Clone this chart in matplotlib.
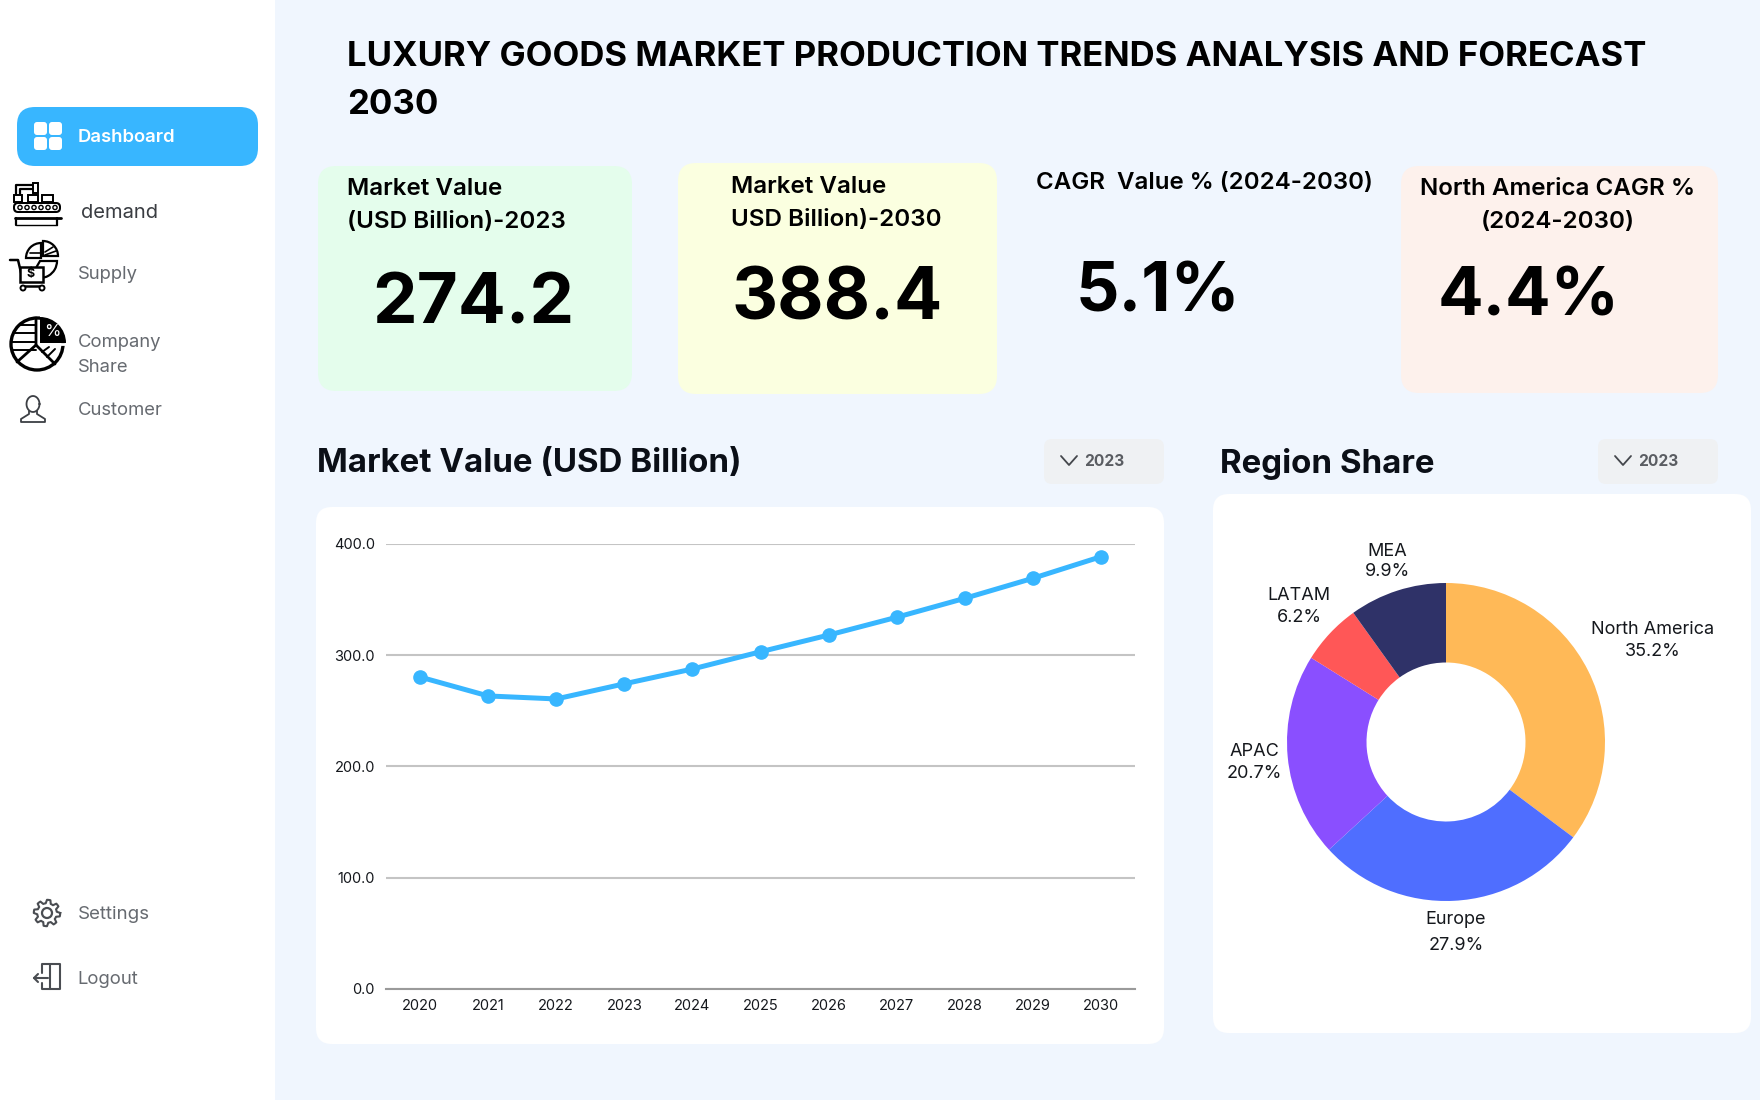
#!/usr/bin/env python3
"""Luxury goods market dashboard, drawn in matplotlib."""

import numpy as np
import matplotlib
matplotlib.use("Agg")
import matplotlib.pyplot as plt
from matplotlib.patches import FancyBboxPatch, Rectangle, Circle, Wedge

plt.rcParams["font.family"] = ["Inter", "DejaVu Sans"]

# === Data ===
TITLE = "LUXURY GOODS MARKET PRODUCTION TRENDS ANALYSIS AND FORECAST\n2030"
years = ["2020", "2021", "2022", "2023", "2024", "2025", "2026", "2027", "2028", "2029", "2030"]
market_value = [280.3, 263.3, 260.6, 274.2, 287.5, 303.0, 318.0, 334.0, 351.0, 369.0, 388.4]
y_ticks = [0, 100, 200, 300, 400]
regions = ["North America", "Europe", "APAC", "LATAM", "MEA"]
region_share = [35.2, 27.9, 20.7, 6.2, 9.9]
region_colors = ["#FFB957", "#4F6EFF", "#8A4FFF", "#FF5757", "#2F3268"]

BG = "#F0F6FE"
BLUE = "#38B6FF"
GREY_TXT = "#666A70"
DARK = "#0B0F17"

W, H = 1760, 1100


def axes_px(fig, left, top, right, bottom):
    """Axes from pixel box (y measured from the top of the figure)."""
    return fig.add_axes([left / W, 1 - bottom / H, (right - left) / W, (bottom - top) / H])


def card(ax, x0, y0, x1, y1, color, r=16, z=1):
    ax.add_patch(FancyBboxPatch((x0 + r, y0 + r), x1 - x0 - 2 * r, y1 - y0 - 2 * r,
                                boxstyle=f"round,pad={r},rounding_size={r}",
                                fc=color, ec="none", zorder=z))


def poly(ax, pts, color="black", lw=2.0, closed=False, z=4):
    pts = list(pts)
    if closed:
        pts.append(pts[0])
    xs, ys = zip(*pts)
    ax.plot(xs, ys, color=color, lw=lw, solid_capstyle="round", solid_joinstyle="round", zorder=z)


def icon_dashboard(ax, x, y):
    for dx, dy in [(0, 0), (15, 0), (0, 15), (15, 15)]:
        card(ax, x + dx, y + dy, x + dx + 13, y + dy + 13, "white", r=3, z=4)


def icon_conveyor(ax, x, y):
    # arm and boxes
    poly(ax, [(x + 5, y + 20), (x + 5, y + 4), (x + 24, y + 4)], lw=1.6)
    poly(ax, [(x + 9, y + 20), (x + 9, y + 8), (x + 24, y + 8)], lw=1.6)
    ax.add_patch(Rectangle((x + 22, y + 2), 5, 10, fc="white", ec="black", lw=1.4, zorder=4))
    for bx, bw in [(x + 3, 8), (x + 17, 10), (x + 31, 11)]:
        ax.add_patch(Rectangle((bx, y + 14), bw, 7, fc="white", ec="black", lw=1.4, zorder=4))
    # belt
    card(ax, x + 2, y + 21, x + 50, y + 32, "black", r=5, z=4)
    card(ax, x + 4, y + 23, x + 48, y + 30, "white", r=3, z=5)
    for k in range(6):
        ax.add_patch(Circle((x + 9 + k * 7, y + 26.5), 2.1, fc="white", ec="black", lw=1.0, zorder=6))
    poly(ax, [(x + 4, y + 37), (x + 50, y + 37)], lw=2.0)
    poly(ax, [(x + 5, y + 37), (x + 5, y + 44)], lw=1.6)
    poly(ax, [(x + 46, y + 37), (x + 46, y + 44)], lw=1.6)
    poly(ax, [(x + 5, y + 44), (x + 46, y + 44)], lw=1.0)


def icon_cart(ax, x, y):
    # three pie pieces above the basket
    ax.add_patch(Wedge((x + 32, y + 15), 15, 180, 270, fc="white", ec="black", lw=1.6, zorder=3))
    ax.add_patch(Wedge((x + 34, y + 13), 15, 270, 360, fc="white", ec="black", lw=1.6, zorder=3))
    ax.add_patch(Wedge((x + 31, y + 18), 17, 0, 120, fc="white", ec="black", lw=1.6, zorder=3))
    poly(ax, [(x + 21, y + 10), (x + 31, y + 10)], lw=1.2)
    poly(ax, [(x + 36, y + 9), (x + 44, y + 4)], lw=1.2)
    poly(ax, [(x + 36, y + 12), (x + 47, y + 8)], lw=1.2)
    # cart
    poly(ax, [(x + 1, y + 17), (x + 9, y + 17), (x + 14, y + 38), (x + 34, y + 38)], lw=1.8, z=5)
    ax.add_patch(Rectangle((x + 11, y + 24), 23, 15, fc="white", ec="black", lw=1.8, zorder=5))
    ax.text(x + 22, y + 31, "$", ha="center", va="center", fontsize=9, fontweight="bold", zorder=6)
    poly(ax, [(x + 13, y + 43), (x + 34, y + 43)], lw=1.8)
    ax.add_patch(Circle((x + 14, y + 45), 2.5, fc="white", ec="black", lw=1.4, zorder=5))
    ax.add_patch(Circle((x + 33, y + 45), 2.5, fc="white", ec="black", lw=1.4, zorder=5))


def icon_pie(ax, x, y):
    cx, cy, r = x + 28, y + 28, 26
    ax.add_patch(Circle((cx, cy), r, fc="white", ec="black", lw=2.4, zorder=3))
    for dy in [-19, -11, -2, 6]:
        half = np.sqrt(r ** 2 - dy ** 2)
        poly(ax, [(cx - half, cy + dy), (cx - 1, cy + dy)], lw=1.4)
    poly(ax, [(cx - 1, cy - r), (cx - 1, cy + 1), (cx - 20, cy + 18)], lw=2.0)
    poly(ax, [(cx - 1, cy + 1), (cx + 18, cy + 20)], lw=2.0)
    poly(ax, [(cx + 5, cy + 8), (cx + 12, cy + 3)], lw=1.4)
    poly(ax, [(cx + 10, cy + 13), (cx + 18, cy + 5)], lw=1.4)
    # black slice with a white gap round it
    ax.add_patch(Wedge((x + 31, y + 25), 30, -90, 0, fc="white", ec="none", zorder=4))
    ax.add_patch(Wedge((x + 31, y + 27), 26, -90, 0, fc="black", ec="none", zorder=5))
    poly(ax, [(x + 31, y + 28), (x + 57, y + 28)], color="white", lw=2.0, z=5)
    ax.text(x + 43, y + 15, "%", color="white", ha="center", va="center", fontsize=12, zorder=6)


def icon_person(ax, x, y):
    grey = "#3C3F44"
    th = np.linspace(0, 2 * np.pi, 40)
    ax.plot(x + 13 + 6.5 * np.cos(th), y + 9 + 8 * np.sin(th), color=grey, lw=1.3, zorder=4)
    poly(ax, [(x + 9, y + 16), (x + 9, y + 19), (x + 1, y + 24), (x + 1, y + 27), (x + 25, y + 27),
              (x + 25, y + 24), (x + 17, y + 19), (x + 17, y + 16)], color=grey, lw=1.3)


def icon_gear(ax, x, y):
    grey = "#4A4D52"
    cx, cy = x + 14, y + 14
    ang = np.linspace(0, 2 * np.pi, 8 * 6 + 1)
    rad = 11.5 + 1.7 * np.where(np.arange(ang.size) % 6 < 3, 1, -1)
    ax.plot(cx + rad * np.cos(ang), cy + rad * np.sin(ang), color=grey, lw=1.5, zorder=4)
    ax.add_patch(Circle((cx, cy), 5, fc="none", ec=grey, lw=1.6, zorder=4))


def icon_logout(ax, x, y):
    grey = "#4A4D52"
    poly(ax, [(x + 8, y + 10), (x + 8, y + 1), (x + 26, y + 1), (x + 26, y + 26), (x + 8, y + 26), (x + 8, y + 20)], color=grey, lw=1.5)
    poly(ax, [(x + 16, y + 1), (x + 16, y + 26)], color=grey, lw=1.5)
    poly(ax, [(x + 0, y + 15), (x + 14, y + 15)], color=grey, lw=1.5)
    poly(ax, [(x + 4, y + 11), (x + 0, y + 15), (x + 4, y + 19)], color=grey, lw=1.5)


def main():
    fig = plt.figure(figsize=(W / 100, H / 100), dpi=100, facecolor=BG)

    # full-figure layer in pixel units for the dashboard furniture
    page = fig.add_axes([0, 0, 1, 1])
    page.set_xlim(0, W)
    page.set_ylim(H, 0)
    page.axis("off")

    # sidebar
    page.add_patch(Rectangle((0, 0), 275, H, fc="white", ec="none", zorder=1))
    card(page, 17, 107, 258, 166, BLUE, r=18, z=2)
    icon_dashboard(page, 34, 122)
    page.text(78, 137.5, "Dashboard", color="white", fontsize=13.3, fontweight="semibold", va="center", zorder=5)
    icon_conveyor(page, 11, 181)
    page.text(81, 213, "demand", color="#3A3D42", fontsize=14.5, va="center", zorder=5)
    icon_cart(page, 9, 243)
    page.text(78, 274.5, "Supply", color=GREY_TXT, fontsize=13.3, va="center", zorder=5)
    icon_pie(page, 9, 316)
    page.text(78, 342.5, "Company", color=GREY_TXT, fontsize=13.3, va="center", zorder=5)
    page.text(78, 367.5, "Share", color=GREY_TXT, fontsize=13.3, va="center", zorder=5)
    icon_person(page, 20, 395)
    page.text(78, 410.5, "Customer", color=GREY_TXT, fontsize=13.3, va="center", zorder=5)
    icon_gear(page, 33, 899)
    page.text(78, 914.5, "Settings", color=GREY_TXT, fontsize=13.5, va="center", zorder=5)
    icon_logout(page, 34, 963)
    page.text(77, 979.5, "Logout", color=GREY_TXT, fontsize=13.3, va="center", zorder=5)

    # page title
    page.text(347, 57, TITLE.split("\n")[0], color="black", fontsize=25, fontweight="bold", va="center")
    page.text(347, 105, TITLE.split("\n")[1], color="black", fontsize=25, fontweight="bold", va="center")

    # KPI cards
    card(page, 318, 166, 632, 391, "#E4FDEC", r=18)
    card(page, 678, 163, 997, 394, "#FBFFE0", r=18)
    card(page, 1401, 166, 1718, 393, "#FDF1EC", r=18)

    kpi_font = dict(color="black", fontsize=17.4, fontweight="semibold", va="center")
    page.text(347, 189, "Market Value", **kpi_font)
    page.text(347, 222, "(USD Billion)-2023", **kpi_font)
    page.text(731, 187, "Market Value", **kpi_font)
    page.text(731, 220, "USD Billion)-2030", **kpi_font)
    page.text(1036, 183, "CAGR  Value % (2024-2030)", fontsize=17.3, color="black", fontweight="semibold", va="center")
    page.text(1558, 189, "North America CAGR %", ha="center", **kpi_font)
    page.text(1558, 222, "(2024-2030)", ha="center", **kpi_font)

    big_font = dict(color="black", fontweight="bold", va="center", ha="center")
    page.text(473, 305, f"{market_value[3]:.1f}", fontsize=51, **big_font)
    page.text(837, 301, f"{market_value[-1]:.1f}", fontsize=51.5, **big_font)
    page.text(1158, 294, "5.1%", fontsize=49, **big_font)
    page.text(1529, 298, "4.4%", fontsize=48.5, **big_font)

    # section headers and dropdowns
    page.text(317, 464, "Market Value (USD Billion)", color=DARK, fontsize=23.8, fontweight="bold", va="center")
    page.text(1220, 464, "Region Share", color=DARK, fontsize=23.8, fontweight="bold", va="center")
    for x0 in (1044, 1598):
        card(page, x0, 439, x0 + 120, 484, "#EFF1F3", r=8)
        poly(page, [(x0 + 17, 456), (x0 + 25, 465), (x0 + 33, 456)], color="#44474C", lw=1.3)
        page.text(x0 + 40, 461, years[3], color="#5A5D62", fontsize=11.2, fontweight="bold", va="center")

    # chart cards
    card(page, 316, 507, 1164, 1044, "white", r=16)
    card(page, 1213, 494, 1751, 1033, "white", r=16)

    # line chart
    ax = axes_px(fig, 386, 543.8, 1135, 989)
    ax.patch.set_alpha(0)
    ax.plot(range(len(years)), market_value, color=BLUE, lw=3.6, marker="o", ms=9.5, zorder=3, clip_on=False)
    ax.set_xlim(-0.5, 10.5)
    ax.set_ylim(0, 400)
    ax.set_xticks(range(len(years)), years)
    ax.set_yticks(y_ticks, [f"{v:.1f}" for v in y_ticks])
    ax.tick_params(length=0, labelsize=10.5, labelcolor="#15181D")
    ax.tick_params(axis="x", pad=7)
    ax.tick_params(axis="y", pad=8)
    ax.grid(axis="y", color="#C4C4C4", lw=1.5)
    ax.set_axisbelow(True)
    for name in ("top", "left", "right"):
        ax.spines[name].set_visible(False)
    ax.spines["bottom"].set_color("#9A9A9A")
    ax.spines["bottom"].set_linewidth(1.5)

    # donut
    pie_ax = axes_px(fig, 1446 - 159, 742 - 159, 1446 + 159, 742 + 159)
    pie_ax.pie(region_share, colors=region_colors, startangle=90, counterclock=False, radius=1.0,
               normalize=True, wedgeprops=dict(width=0.5, edgecolor="none"))
    pie_ax.set_xlim(-1, 1)
    pie_ax.set_ylim(-1, 1)

    # donut labels, in the order of regions: x, y of each line
    label_pos = [(1653, 630, 651), (1456, 920, 945), (1254, 752, 773), (1299, 596, 618), (1387, 551, 572)]
    for name, share, (lx, ly1, ly2) in zip(regions, region_share, label_pos):
        page.text(lx, ly1, name, color="#15181D", fontsize=13, ha="center", va="center", zorder=5)
        page.text(lx, ly2, f"{share:.1f}%", color="#15181D", fontsize=13, ha="center", va="center", zorder=5)

    fig.savefig("out.png", dpi=100, facecolor=BG)


if __name__ == "__main__":
    main()
